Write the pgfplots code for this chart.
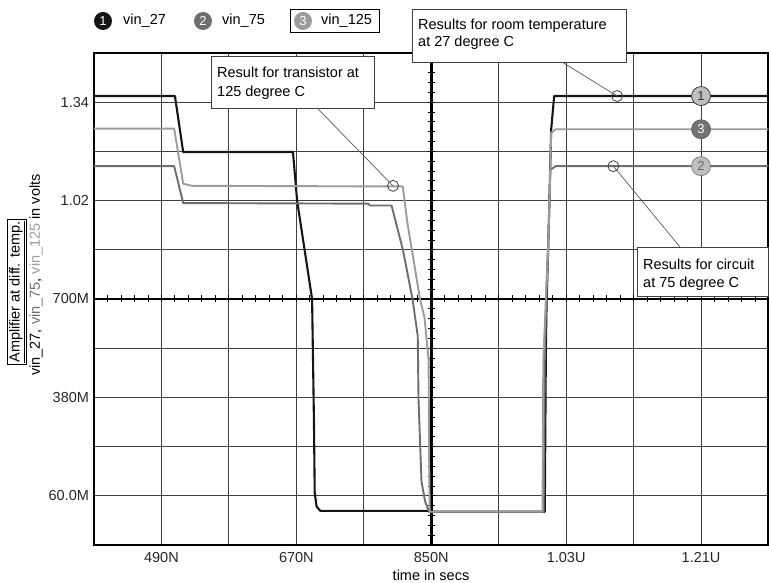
\documentclass[border=0pt]{standalone}
\usepackage{pgfplots}
\pgfplotsset{compat=1.18}
\usepackage{fontspec}
\setmainfont{Liberation Sans}
\definecolor{cA}{HTML}{151515}
\definecolor{cB}{HTML}{6E6E6E}
\definecolor{cC}{HTML}{9C9C9C}
\definecolor{gridc}{HTML}{404040}
\begin{document}
\fontsize{14.5}{17}\selectfont
\begin{tikzpicture}[x=1pt,y=1pt]
\path[use as bounding box] (0,0) rectangle (769,583);
\begin{axis}[
 at={(94pt,38pt)}, anchor=south west, scale only axis,
 width=674.5pt, height=492pt,
 xmin=400, xmax=1300, ymin=-0.1, ymax=1.5,
 xtick={490,670,850,1030,1210},
 xticklabels={490N,670N,850N,1.03U,1.21U},
 minor xtick={400,580,760,940,1120,1300},
 ytick={0.06,0.38,0.70,1.02,1.34},
 yticklabels={60.0M,380M,700M,1.02,1.34},
 minor ytick={-0.1,0.22,0.54,0.86,1.18,1.5},
 grid=both,
 major grid style={gridc, line width=0.9pt},
 minor grid style={gridc, line width=0.9pt},
 major tick length=0pt, minor tick length=0pt,
 axis line style={line width=2.4pt, black},
 tick label style={font=\fontsize{14.5}{17}\selectfont, text=black!85},
 xticklabel style={yshift=-2pt},
 clip=false,
]
% bold origin axes
\draw[black, line width=2.6pt] (axis cs:400,0.70) -- (axis cs:1300,0.70);
\draw[black, line width=2.6pt] (axis cs:850,-0.1) -- (axis cs:850,1.5);
\pgfplotsinvokeforeach{418,436,...,1282}{
  \draw[black, line width=0.9pt] ([yshift=-3.5pt]axis cs:#1,0.70) -- ([yshift=3.5pt]axis cs:#1,0.70);
}
\pgfplotsinvokeforeach{-0.068,-0.036,...,1.48}{
  \draw[black, line width=0.9pt] ([xshift=-3.5pt]axis cs:850,#1) -- ([xshift=3.5pt]axis cs:850,#1);
}
% vin_27
\addplot[cA, line width=2.1pt, line join=round] coordinates {
(400,1.36) (508,1.36) (519,1.178) (665.5,1.178) (671,1.02) (691,0.70) (693.5,0.30)
(694.5,0.07) (697,0.025) (702,0.011) (845,0.011) (849,0.008) (1001.5,0.008)
(1003,0.55) (1004,0.70) (1006,0.86) (1010,1.25) (1014,1.36) (1300,1.36)};
% vin_75
\addplot[cB, line width=1.9pt, line join=round] coordinates {
(400,1.132) (507,1.132) (519,1.012) (766,1.010) (768,1.004) (797,1.004) (812,0.862)
(825,0.70) (832,0.58) (833,0.375) (837,0.105) (842,0.04) (846,0.015) (848,0.008)
(1000,0.008) (1001.5,0.5) (1004,0.75) (1007,0.95) (1009,1.12) (1016,1.132) (1300,1.132)};
% vin_125
\addplot[cC, line width=1.9pt, line join=round] coordinates {
(400,1.254) (507,1.254) (519,1.075) (531,1.068) (812,1.066) (818,0.95) (824,0.862)
(835,0.70) (841,0.64) (846.5,0.50) (847,0.23) (848,0.008) (998.5,0.008) (999.5,0.5)
(1003,0.70) (1006,0.86) (1010,1.24) (1016,1.252) (1300,1.252)};
% annotation markers
\addplot[only marks, mark=o, mark size=5.5pt, mark options={gridc, line width=0.8pt}]
 coordinates {(799,1.068) (1098,1.36) (1093,1.132)};
\coordinate (m125) at (axis cs:799,1.068);
\coordinate (m27) at (axis cs:1098,1.36);
\coordinate (m75) at (axis cs:1093,1.132);
% numbered curve markers
\addplot[only marks, mark=*, mark size=9.5pt, mark options={fill=black!25, draw=gridc, line width=0.8pt},
 nodes near coords={\fontsize{13}{15}\selectfont\textcolor{black!80}{1}},
 every node near coord/.append style={anchor=center}] coordinates {(1210,1.36)};
\addplot[only marks, mark=*, mark size=9.5pt, mark options={fill=black!55, draw=black!60, line width=0.8pt},
 nodes near coords={\fontsize{13}{15}\selectfont\textcolor{white}{3}},
 every node near coord/.append style={anchor=center}] coordinates {(1210,1.252)};
\addplot[only marks, mark=*, mark size=9.5pt, mark options={fill=black!25, draw=black!50, line width=0.8pt},
 nodes near coords={\fontsize{13}{15}\selectfont\textcolor{black!60}{2}},
 every node near coord/.append style={anchor=center}] coordinates {(1210,1.132)};
\end{axis}
% leader lines
\draw[black!65, line width=0.7pt] (318,474) -- (m125);
\draw[black!65, line width=0.7pt] (562,521) -- (m27);
\draw[black!65, line width=0.7pt] (680,336) -- (m75);
% annotation boxes
\draw[gridc, line width=0.8pt, fill=white] (211,527) rectangle (374,475);
\node[anchor=base west, inner sep=0pt] at (217,505) {Result for transistor at};
\node[anchor=base west, inner sep=0pt] at (217,486) {125 degree C};
\draw[gridc, line width=0.8pt, fill=white] (412,574) rectangle (626,521);
\node[anchor=base west, inner sep=0pt] at (418,553) {Results for room temperature};
\node[anchor=base west, inner sep=0pt] at (418,536) {at 27 degree C};
\draw[gridc, line width=0.8pt, fill=white] (637,336) rectangle (768,287);
\node[anchor=base west, inner sep=0pt] at (643,313) {Results for circuit};
\node[anchor=base west, inner sep=0pt] at (643,295) {at 75 degree C};
% legend
\fill[cA] (103,562) circle (9);
\node[text=white, font=\fontsize{13}{15}\selectfont] at (103,562) {1};
\node[anchor=west, inner sep=0pt] at (123,562) {vin\_27};
\fill[cB] (203,562) circle (9);
\node[text=white, font=\fontsize{13}{15}\selectfont] at (203,562) {2};
\node[anchor=west, inner sep=0pt] at (222,562) {vin\_75};
\draw[black, line width=0.9pt] (290,574) rectangle (379,551);
\fill[cC] (303,562) circle (9);
\node[text=white, font=\fontsize{13}{15}\selectfont] at (303,562) {3};
\node[anchor=west, inner sep=0pt] at (321,562) {vin\_125};
% axis labels
\node at (431,8) {time in secs};
\node[rotate=90, draw=black, line width=0.8pt, inner sep=1.5pt] at (17,291) {\underline{Amplifier at diff. temp.}};
\node[rotate=90, inner sep=0pt] at (36,308) {vin\_27, \textcolor{cB}{vin\_75}, \textcolor{cC}{vin\_125} in volts};
\end{tikzpicture}
\end{document}
